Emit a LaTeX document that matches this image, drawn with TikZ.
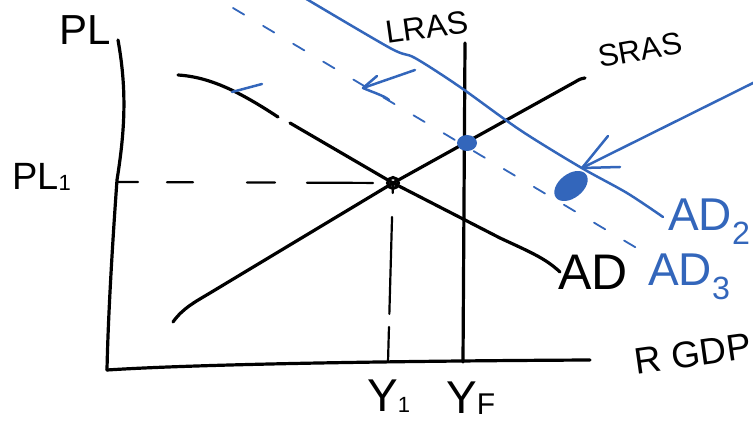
\documentclass[tikz,border=0pt]{standalone}
\usepackage{fontspec}
\setmainfont{Liberation Sans}
\definecolor{pen}{RGB}{51,102,187}
\newcommand{\lowsub}[2]{\raisebox{-1pt}{\fontsize{#1}{#1}\selectfont #2}}
\begin{document}
\begin{tikzpicture}[x=1pt,y=-1pt,
  ink/.style={line width=3.2pt,line cap=round,line join=round,black},
  thinink/.style={line width=2.2pt,line cap=round,black},
  blueink/.style={line width=2.5pt,color=pen,line cap=round,line join=round},
  bluedash/.style={line width=1.8pt,color=pen,line cap=round,dash pattern=on 13pt off 22pt},
  hand/.style={inner sep=0pt},
  bighand/.style={hand,font=\fontsize{42}{42}\selectfont},
  midhand/.style={hand,font=\fontsize{28}{28}\selectfont},
  bluehand/.style={hand,text=pen,font=\fontsize{46}{46}\selectfont}]
\useasboundingbox (0,0) rectangle (753,427);
% axes
\coordinate (yTop) at (118,40);
\coordinate (orig) at (107,370);
\coordinate (xEnd) at (590,360);
\draw[ink] (yTop) .. controls (127,90) and (125,130) .. (117,180)
  .. controls (112,250) and (108,320) .. (orig);
\draw[ink] (orig) .. controls (200,364) and (400,361) .. (xEnd);
% key points
\coordinate (E) at (393,183);
\coordinate (plTick) at (117,182);
\coordinate (yOne) at (388,362);
% LRAS
\coordinate (lrT) at (465,43);
\coordinate (lrB) at (463,362);
\draw[ink] (lrT) -- (lrB);
% SRAS
\coordinate (srA) at (173,322);
\coordinate (srB) at (585,78);
\draw[ink] (srA) .. controls (183,308) and (195,302) .. (210,293) -- (E) -- (575,82)
  .. controls (580,79) .. (srB);
% AD (black)
\coordinate (adA) at (178,75);
\coordinate (adG1) at (278,117);
\coordinate (adG2) at (290,123);
\coordinate (adB) at (560,272);
\draw[ink] (adA) .. controls (210,77) and (240,92) .. (adG1);
\draw[ink] (adG2) -- (E) -- (500,238) .. controls (530,252) and (545,258) .. (adB);
% dashed guides
\draw[thinink,dash pattern=on 21pt off 29pt on 26pt off 54pt on 28pt off 32pt on 66pt off 20pt] (plTick) -- (E);
\draw[thinink,dash pattern=on 10pt off 24pt on 97pt off 13pt on 40pt off 0pt] (E) -- (yOne);
\node[draw,circle,line width=3pt,minimum size=11pt,inner sep=0pt] (Edot) at (E) {};
% blue AD2 (solid)
\coordinate (adTwoS) at (298,-6);
\coordinate (adTwoE) at (663,217);
\draw[blueink] plot[smooth,tension=0.5] coordinates {(adTwoS) (390,48) (415,58) (460,87) (520,130) (580,167) (627,193) (adTwoE)};
% blue AD3 (dashed)
\coordinate (adThrS) at (233,8);
\coordinate (adThrE) at (640,250);
\draw[bluedash] (adThrS) -- (adThrE);
% blue tick on AD
\coordinate (tkA) at (232,92);
\coordinate (tkB) at (262,84);
\draw[blueink] (tkA) -- (tkB);
% shift arrow
\coordinate (arS) at (415,70);
\coordinate (arT) at (363,88);
\coordinate (arU) at (377,76);
\coordinate (arL) at (389,100);
\draw[blueink] (arS) -- (arT);
\draw[blueink] (arU) -- (arT) .. controls (372,92) and (385,96) .. (arL);
% long arrow
\coordinate (laS) at (755,82);
\coordinate (laT) at (582,168);
\coordinate (laU) at (608,136);
\coordinate (laL) at (620,167);
\draw[blueink] (laS) -- (laT);
\draw[blueink] (laU) -- (laT) -- (laL);
% blue dots
\fill[pen] (467,143) ellipse [x radius=10, y radius=8];
\fill[pen] (571,186) ellipse [x radius=19, y radius=12, rotate=38];
% labels
\node[bighand] (lPL) at (85,30) {PL};
\node[bighand,font=\fontsize{38}{38}\selectfont,anchor=base west] (lPLone) at (12,190) {PL\lowsub{22}{1}};
\node[midhand,font=\fontsize{32}{32}\selectfont,rotate=8] (lLRAS) at (427,27) {LRAS};
\node[midhand,font=\fontsize{31}{31}\selectfont,rotate=10] (lSRAS) at (640,50) {SRAS};
\node[bighand,font=\fontsize{50}{50}\selectfont,anchor=base west] (lAD) at (558,290) {AD};
\node[bluehand,anchor=base west] (lADtwo) at (668,231) {AD\textsubscript{2}};
\node[bluehand,anchor=base west] (lADthr) at (648,286) {AD\textsubscript{3}};
\node[bighand,font=\fontsize{46}{46}\selectfont,anchor=base west] (lYone) at (367,412) {Y\lowsub{22}{1}};
\node[bighand,font=\fontsize{46}{46}\selectfont,anchor=base west] (lYF) at (446,414) {Y\lowsub{30}{F}};
\node[midhand,font=\fontsize{37}{37}\selectfont,rotate=8] (lRGDP) at (693,354) {R GDP};
\end{tikzpicture}
\end{document}
